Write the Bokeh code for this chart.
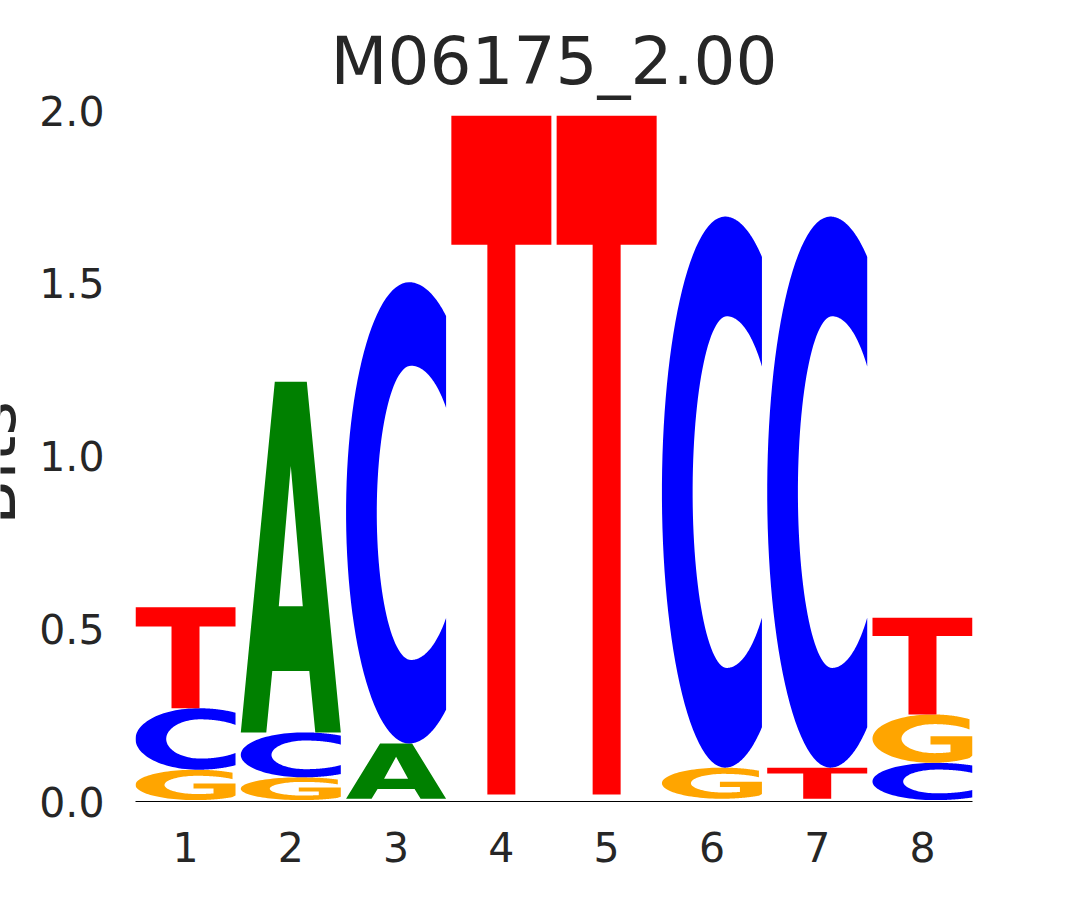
import numpy as np
from bokeh.plotting import figure
from bokeh.layouts import row
from bokeh.models import FixedTicker, Range1d
from bokeh.core.properties import value
from bokeh.embed import file_html
from bokeh.resources import INLINE

# ---------------- data ----------------
positions = [1, 2, 3, 4, 5, 6, 7, 8]
A_bits = [0.004, 1.015, 0.160, 0.007, 0.007, 0.004, 0.004, 0.004]
C_bits = [0.178, 0.130, 1.335, 0.007, 0.007, 1.595, 1.595, 0.108]
G_bits = [0.088, 0.066, 0.004, 0.006, 0.006, 0.090, 0.004, 0.140]
T_bits = [0.292, 0.004, 0.004, 1.965, 1.965, 0.004, 0.090, 0.280]
bases = ["A", "C", "G", "T"]
base_colors = {"A": "#008000", "C": "#0000ff", "G": "#ffa500", "T": "#ff0000"}
title_text = "M06175_2.00"
y_label = "Bits"
y_ticks = [0.0, 0.5, 1.0, 1.5, 2.0]
y_tick_labels = ["0.0", "0.5", "1.0", "1.5", "2.0"]
x_tick_labels = ["1", "2", "3", "4", "5", "6", "7", "8"]

# ---------------- glyph outlines (unit box) ----------------
def arc(cx, cy, rx, ry, a0, a1, n=60):
    t = np.radians(np.linspace(a0, a1, n))
    return list(cx + rx * np.cos(t)), list(cy + ry * np.sin(t))

def shape_T():
    xs = [0, 1, 1, 0.64, 0.64, 0.36, 0.36, 0]
    ys = [1, 1, 0.81, 0.81, 0, 0, 0.81, 0.81]
    return [(xs, ys)]

def shape_A():
    ox = [0, 0.255, 0.315, 0.685, 0.745, 1, 0.66, 0.34]
    oy = [0, 0, 0.175, 0.175, 0, 0, 1, 1]
    hx = [0.38, 0.62, 0.5]
    hy = [0.36, 0.36, 0.76]
    return [(ox, oy), (hx, hy)]

def shape_C():
    X, Y = [], []
    cx, cy, ry = 0.63, 0.5, 0.5
    rxl, rxr = 0.63, 0.71
    tu = np.degrees(np.arccos((1 - cx) / rxr))
    for (rx, a0, a1) in [(rxr, tu, 90), (rxl, 90, 270), (rxr, 270, 360 - tu)]:
        x, y = arc(cx, cy, rx, ry, a0, a1)
        X += x; Y += y
    icx, icy, iry = 0.65, 0.5, 0.319
    irl, irr = 0.343, 0.5
    fc = np.degrees(np.arccos((1 - icx) / irr))
    for (rx, a0, a1) in [(irr, 360 - fc, 270), (irl, 270, 90), (irr, 90, fc)]:
        x, y = arc(icx, icy, rx, iry, a0, a1)
        X += x; Y += y
    return [(X, Y)]

def shape_G():
    X, Y = [], []
    cx, cy, ry = 0.6, 0.5, 0.5
    rxl, rxr = 0.6, 0.62
    tu = np.degrees(np.arccos((0.97 - cx) / rxr))
    for (rx, a0, a1) in [(rxr, tu, 90), (rxl, 90, 270), (rxr, 270, 360 - tu)]:
        x, y = arc(cx, cy, rx, ry, a0, a1)
        X += x; Y += y
    X += [1.0, 1.0, 0.58, 0.58, 0.78]
    Y += [0.15, 0.55, 0.55, 0.38, 0.38]
    icx, icy, iry = 0.62, 0.5, 0.30
    irl, irr = 0.33, 0.45
    fs = 360 - np.degrees(np.arccos((0.78 - icx) / irr))
    fu = np.degrees(np.arccos((0.97 - icx) / irr))
    for (rx, a0, a1) in [(irr, fs, 270), (irl, 270, 90), (irr, 90, fu)]:
        x, y = arc(icx, icy, rx, iry, a0, a1)
        X += x; Y += y
    return [(X, Y)]

shapes = {"A": shape_A(), "C": shape_C(), "G": shape_G(), "T": shape_T()}

# ---------------- build glyph coordinates from data ----------------
bits = {"A": A_bits, "C": C_bits, "G": G_bits, "T": T_bits}
glyph_w = 0.95
draw_min = 0.01
mx, my, mc = [], [], []
for i, pos in enumerate(positions):
    col = sorted(bases, key=lambda b: bits[b][i])
    y0 = 0.0
    for b in col:
        h = bits[b][i]
        if h >= draw_min:
            rings_x, rings_y = [], []
            for (ux, uy) in shapes[b]:
                rings_x.append(list(pos - glyph_w / 2 + glyph_w * np.asarray(ux)))
                rings_y.append(list(y0 + h * np.asarray(uy)))
            mx.append([rings_x]); my.append([rings_y]); mc.append(base_colors[b])
        y0 += h

txt = "#262626"
H = 880
LW = 30  # narrow strip holding the (cut-off) y label

# ---------------- y-label strip ----------------
lab = figure(width=LW, height=H, output_backend="svg", toolbar_location=None,
             x_range=Range1d(0, LW), y_range=Range1d(0, H),
             x_axis_location=None, y_axis_location=None,
             min_border=0, min_border_left=0, min_border_right=0,
             min_border_top=0, min_border_bottom=0)
lab.outline_line_color = None
lab.xgrid.visible = False
lab.ygrid.visible = False
lab.text(x=[30], y=[H - 449], text=[y_label], angle=np.pi / 2,
         text_align="center", text_baseline="bottom",
         text_font=value("DejaVu Sans"), text_font_size="66px", text_color=txt)

# ---------------- main figure ----------------
p = figure(width=1042, height=H, output_backend="svg", toolbar_location=None,
           x_range=Range1d(positions[0] - glyph_w / 2, positions[-1] + glyph_w / 2),
           y_range=Range1d(y_ticks[0], y_ticks[-1]),
           min_border_left=135 - LW, min_border_right=100, min_border_top=110,
           min_border_bottom=H - 801)
p.outline_line_color = None
p.background_fill_color = "white"
p.xgrid.visible = False
p.ygrid.visible = False

p.title.text = title_text
p.title.align = "center"
p.title.text_font = "DejaVu Sans"
p.title.text_font_size = "66px"
p.title.text_font_style = "normal"
p.title.text_color = txt
p.title.standoff = 21

p.multi_polygons(xs=mx, ys=my, fill_color=mc, line_color=None)

p.xaxis.ticker = FixedTicker(ticks=positions)
p.xaxis.major_label_overrides = {pos: l for pos, l in zip(positions, x_tick_labels)}
p.xaxis.axis_line_color = "black"
p.xaxis.axis_line_width = 1.2
p.xaxis.major_tick_line_color = None
p.xaxis.minor_tick_line_color = None
p.xaxis.major_label_standoff = 24
p.xaxis.major_label_text_font = "DejaVu Sans"
p.xaxis.major_label_text_font_size = "41px"
p.xaxis.major_label_text_color = txt

p.yaxis.ticker = FixedTicker(ticks=y_ticks)
p.yaxis.major_label_overrides = {t: l for t, l in zip(y_ticks, y_tick_labels)}
p.yaxis.axis_line_color = None
p.yaxis.major_tick_line_color = None
p.yaxis.minor_tick_line_color = None
p.yaxis.major_label_standoff = 25
p.yaxis.major_label_text_font = "DejaVu Sans"
p.yaxis.major_label_text_font_size = "41px"
p.yaxis.major_label_text_color = txt

layout = row(lab, p, spacing=0)
open("out.html", "w").write(file_html(layout, INLINE))
